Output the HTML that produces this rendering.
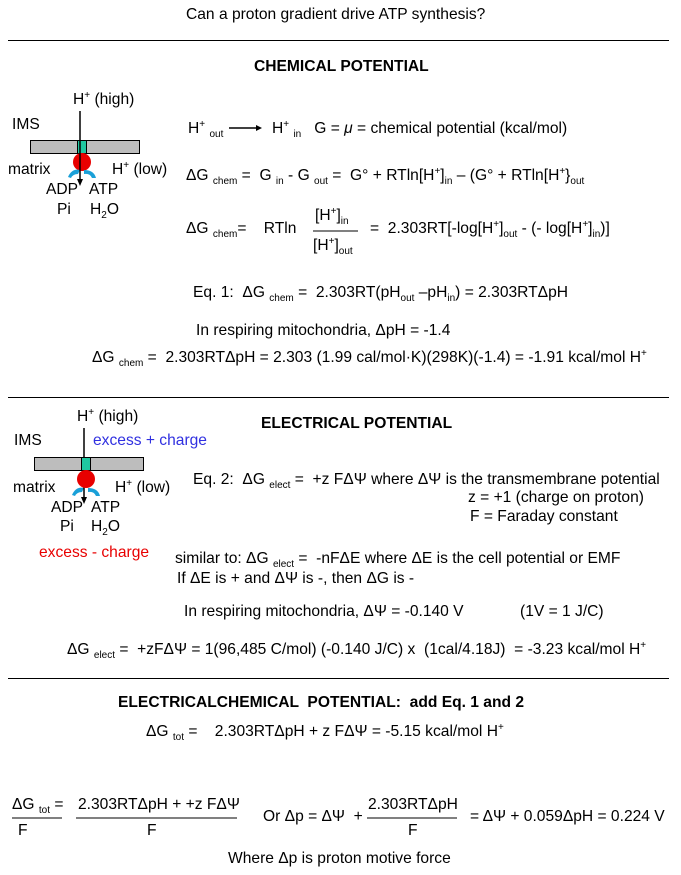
<!DOCTYPE html>
<html><head><style>
body{margin:0;width:681px;height:875px;background:#fff;position:relative;font-family:"Liberation Sans",Arial,sans-serif;font-size:15.6px;color:#000;overflow:hidden}
.t{position:absolute;white-space:nowrap;line-height:18px}
.b{font-weight:bold}
sub,sup{font-size:10px;line-height:0}
.hl{position:absolute;height:1px;background:#000}
.bar{position:absolute;height:14px;background:#bdbdbd;border:1px solid #000;box-sizing:border-box}
.gr{position:absolute;width:10px;height:14px;background:#1fc7a0;border:1px solid #000;box-sizing:border-box}
.rd{position:absolute;width:18px;height:18px;border-radius:50%;background:#e80000}
</style></head><body>
<div class="t" style="left:186px;top:6px">Can a proton gradient drive ATP synthesis?</div>
<div class="hl" style="left:8px;top:40px;width:661px"></div>
<div class="t b" style="left:254px;top:58px">CHEMICAL POTENTIAL</div>

<div class="t" style="left:73px;top:91px">H<sup>+</sup> (high)</div>
<div class="t" style="left:12px;top:116px">IMS</div>
<div class="bar" style="left:30px;top:140px;width:110px"></div>
<div class="gr" style="left:77px;top:140px"></div>
<div class="rd" style="left:73px;top:153px"></div>
<div class="t" style="left:8px;top:161px">matrix</div>
<div class="t" style="left:112px;top:161px">H<sup>+</sup> (low)</div>
<div class="t" style="left:46px;top:181px">ADP</div>
<div class="t" style="left:89px;top:181px">ATP</div>
<div class="t" style="left:57px;top:201px">Pi</div>
<div class="t" style="left:90px;top:201px">H<sub>2</sub>O</div>
<svg style="position:absolute;left:0;top:0" width="681" height="875">
<path d="M68 177 Q72 168 80 170 L78 174 Q73 174 71 178Z" fill="#1aa0d8"/>
<path d="M84 170 Q94 170 96 178 L92 178 Q90 173 84 174Z" fill="#1aa0d8"/>
<line x1="80" y1="111" x2="80" y2="180" stroke="#000" stroke-width="1.5"/>
<polygon points="77,179 83,179 80,186" fill="#000"/>
<path d="M72 495 Q76 486 84 488 L82 492 Q77 492 75 496Z" fill="#1aa0d8"/>
<path d="M88 488 Q98 488 100 496 L96 496 Q94 491 88 492Z" fill="#1aa0d8"/>
<line x1="84" y1="428" x2="84" y2="498" stroke="#000" stroke-width="1.5"/>
<polygon points="81,497 87,497 84,504" fill="#000"/>
<line x1="229" y1="128" x2="258" y2="128" stroke="#000" stroke-width="1.5"/>
<polygon points="256,125 262,128 256,131" fill="#000"/>
<line x1="313" y1="231" x2="358" y2="231" stroke="#000"/>
<line x1="12" y1="818" x2="62" y2="818" stroke="#000"/>
<line x1="76" y1="818" x2="237" y2="818" stroke="#000"/>
<line x1="367" y1="818" x2="457" y2="818" stroke="#000"/>
</svg>

<div class="t" style="left:188px;top:120px">H<sup>+</sup> <sub>out</sub></div>
<div class="t" style="left:272px;top:120px">H<sup>+</sup> <sub>in</sub> &nbsp;&nbsp;G = <i>μ</i> = chemical potential (kcal/mol)</div>
<div class="t" style="left:186px;top:167px">ΔG <sub>chem</sub> = &nbsp;G <sub>in</sub> - G <sub>out</sub> = &nbsp;G° + RTln[H<sup>+</sup>]<sub>in</sub> – (G° + RTln[H<sup>+</sup>}<sub>out</sub></div>
<div class="t" style="left:186px;top:220px">ΔG <sub>chem</sub>= &nbsp;&nbsp;&nbsp;RTln</div>
<div class="t" style="left:315px;top:207px">[H<sup>+</sup>]<sub>in</sub></div>
<div class="t" style="left:313px;top:237px">[H<sup>+</sup>]<sub>out</sub></div>
<div class="t" style="left:370px;top:220px">= &nbsp;2.303RT[-log[H<sup>+</sup>]<sub>out</sub> - (- log[H<sup>+</sup>]<sub>in</sub>)]</div>
<div class="t" style="left:193px;top:284px">Eq. 1: &nbsp;ΔG <sub>chem</sub> = &nbsp;2.303RT(pH<sub>out</sub> –pH<sub>in</sub>) = 2.303RTΔpH</div>
<div class="t" style="left:196px;top:322px">In respiring mitochondria, ΔpH = -1.4</div>
<div class="t" style="left:92px;top:349px">ΔG <sub>chem</sub> = &nbsp;2.303RTΔpH = 2.303 (1.99 cal/mol·K)(298K)(-1.4) = -1.91 kcal/mol H<sup>+</sup></div>

<div class="hl" style="left:8px;top:397px;width:661px"></div>
<div class="t" style="left:77px;top:408px">H<sup>+</sup> (high)</div>
<div class="t" style="left:14px;top:432px">IMS</div>
<div class="t" style="left:93px;top:432px;color:#3030e0">excess + charge</div>
<div class="bar" style="left:34px;top:457px;width:110px"></div>
<div class="gr" style="left:81px;top:457px"></div>
<div class="rd" style="left:77px;top:470px"></div>
<div class="t" style="left:13px;top:479px">matrix</div>
<div class="t" style="left:115px;top:479px">H<sup>+</sup> (low)</div>
<div class="t" style="left:51px;top:499px">ADP</div>
<div class="t" style="left:91px;top:499px">ATP</div>
<div class="t" style="left:60px;top:518px">Pi</div>
<div class="t" style="left:91px;top:518px">H<sub>2</sub>O</div>
<div class="t" style="left:39px;top:544px;color:#e80000">excess - charge</div>

<div class="t b" style="left:261px;top:415px">ELECTRICAL POTENTIAL</div>
<div class="t" style="left:193px;top:471px">Eq. 2: &nbsp;ΔG <sub>elect</sub> = &nbsp;+z FΔΨ where ΔΨ is the transmembrane potential</div>
<div class="t" style="left:468px;top:489px">z = +1 (charge on proton)</div>
<div class="t" style="left:470px;top:508px">F = Faraday constant</div>
<div class="t" style="left:175px;top:550px">similar to: ΔG <sub>elect</sub> = &nbsp;-nFΔE where ΔE is the cell potential or EMF</div>
<div class="t" style="left:177px;top:570px">If ΔE is + and ΔΨ is -, then ΔG is -</div>
<div class="t" style="left:184px;top:603px">In respiring mitochondria, ΔΨ = -0.140 V</div>
<div class="t" style="left:520px;top:603px">(1V = 1 J/C)</div>
<div class="t" style="left:67px;top:641px">ΔG <sub>elect</sub> = &nbsp;+zFΔΨ = 1(96,485 C/mol) (-0.140 J/C) x &nbsp;(1cal/4.18J) &nbsp;= -3.23 kcal/mol H<sup>+</sup></div>

<div class="hl" style="left:8px;top:678px;width:661px"></div>
<div class="t b" style="left:118px;top:694px">ELECTRICALCHEMICAL &nbsp;POTENTIAL: &nbsp;add Eq. 1 and 2</div>
<div class="t" style="left:146px;top:723px">ΔG <sub>tot</sub> = &nbsp;&nbsp;&nbsp;2.303RTΔpH + z FΔΨ = -5.15 kcal/mol H<sup>+</sup></div>

<div class="t" style="left:12px;top:796px">ΔG <sub>tot</sub> =</div>
<div class="t" style="left:18px;top:822px">F</div>
<div class="t" style="left:78px;top:796px">2.303RTΔpH + +z FΔΨ</div>
<div class="t" style="left:147px;top:822px">F</div>
<div class="t" style="left:263px;top:808px">Or Δp = ΔΨ &nbsp;+</div>
<div class="t" style="left:368px;top:796px">2.303RTΔpH</div>
<div class="t" style="left:408px;top:822px">F</div>
<div class="t" style="left:470px;top:808px">= ΔΨ + 0.059ΔpH = 0.224 V</div>
<div class="t" style="left:228px;top:850px">Where Δp is proton motive force</div>
</body></html>
